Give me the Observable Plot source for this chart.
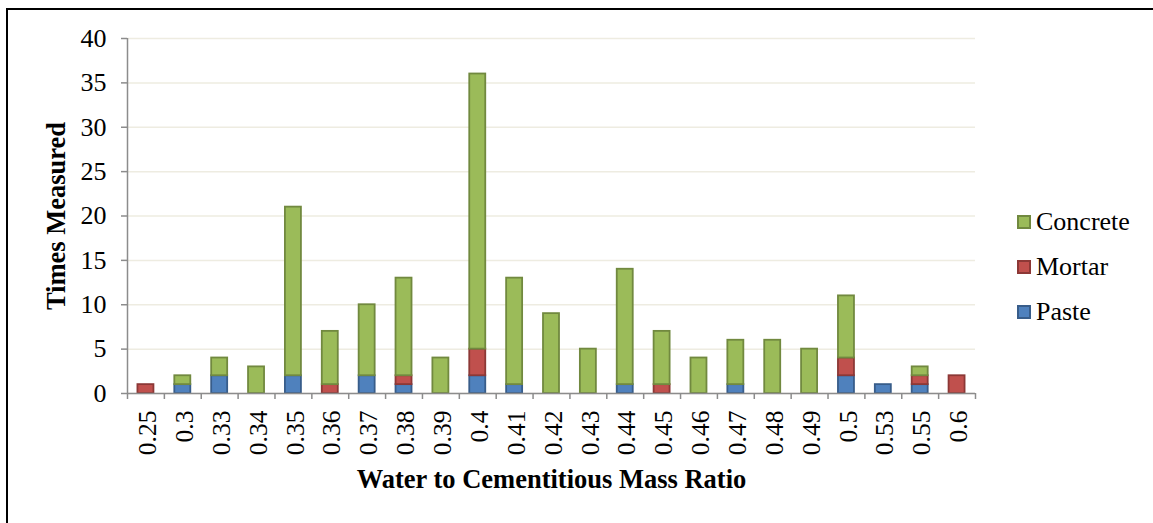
<!DOCTYPE html>
<html>
<head>
<meta charset="utf-8">
<script src="https://cdn.jsdelivr.net/npm/d3@7"></script>
<script src="https://cdn.jsdelivr.net/npm/@observablehq/plot@0.6"></script>
<style>
  html, body { margin: 0; padding: 0; background: #fff; overflow: hidden; width: 1153px; height: 523px; }
  #wrap { position: relative; width: 1153px; height: 523px; }
  #frame { position: absolute; left: 6px; top: 8px; width: 2000px; height: 2000px; border-left: 2px solid #000; border-top: 2px solid #000; box-sizing: border-box; pointer-events: none; }
  #chart { position: absolute; left: 0; top: 0; }
  #legend { position: absolute; left: 1017px; top: 0; font-family: "Liberation Serif", "Times New Roman", serif; font-size: 26px; color: #000; }
  #legend .item { position: absolute; left: 0; display: flex; align-items: center; height: 30px; white-space: nowrap; }
  #legend .sw { width: 10px; height: 10px; border: 2px solid; margin-right: 5px; flex: none; }
</style>
</head>
<body>
<div id="wrap">
  <div id="chart"></div>
  <div id="legend"></div>
  <div id="frame"></div>
</div>
<script>
const categories = ["0.25","0.3","0.33","0.34","0.35","0.36","0.37","0.38","0.39","0.4","0.41","0.42","0.43","0.44","0.45","0.46","0.47","0.48","0.49","0.5","0.53","0.55","0.6"];
const paste    = [0,1,2,0,2,0,2,1,0,2,1,0,0,1,0,0,1,0,0,2,1,1,0];
const mortar   = [1,0,0,0,0,1,0,1,0,3,0,0,0,0,1,0,0,0,0,2,0,1,2];
const concrete = [0,1,2,3,19,6,8,11,4,31,12,9,5,13,6,4,5,6,5,7,0,1,0];
const seriesNames = ["Paste","Mortar","Concrete"];
const fills   = ["#4F81BD","#C0504D","#9BBB59"];
const strokes = ["#385D8A","#8C3836","#71893F"];
const yTicks = [0,5,10,15,20,25,30,35,40];

const seriesValues = [paste, mortar, concrete];
const rows = [];
categories.forEach((c, i) => {
  seriesNames.forEach((s, j) => rows.push({ratio: c, type: s, value: seriesValues[j][i]}));
});
const nonZero = rows.filter(d => d.value > 0);

const W = 1153, H = 523, ML = 127, MR = 178, MT = 38, MB = 130;
const step = (W - ML - MR) / categories.length;
const serif = "Liberation Serif, Times New Roman, serif";
const axisColor = "#8C8C8C";

const plot = Plot.plot({
  width: W, height: H,
  marginLeft: ML, marginRight: MR, marginTop: MT, marginBottom: MB,
  style: { fontFamily: serif, fontSize: "26px", color: "#000", background: "transparent" },
  x: { domain: categories, paddingInner: 0.566, paddingOuter: 0.283, round: false, label: null },
  y: { domain: [0, 40], label: null },
  color: { domain: seriesNames, range: fills },
  marks: [
    Plot.gridY(yTicks, { stroke: "#EEECE1", strokeOpacity: 1, strokeWidth: 1.5 }),
    Plot.barY(nonZero, Plot.stackY({
      x: "ratio", y: "value", fill: "type", order: seriesNames,
      stroke: d => strokes[seriesNames.indexOf(d.type)], strokeWidth: 1.8
    })),
    Plot.ruleY([0], { stroke: axisColor, strokeWidth: 1.5 }),
    Plot.ruleX([categories[0]], { x: d => d, dx: -step / 2, y1: 0, y2: 40, stroke: axisColor, strokeWidth: 1.5 }),
    Plot.ruleX(categories, { x: d => d, dx: -step / 2, y1: 0, y2: 0, insetBottom: -6, stroke: axisColor, strokeWidth: 1.5 }),
    Plot.ruleX([categories[categories.length - 1]], { x: d => d, dx: step / 2, y1: 0, y2: 0, insetBottom: -6, stroke: axisColor, strokeWidth: 1.5 }),
    Plot.axisY(yTicks, { tickSize: 6, tickPadding: 15, stroke: axisColor, strokeWidth: 1.5, fontSize: 26, fontFamily: serif }),
    Plot.axisX(categories, { tickSize: 0, tickPadding: 17, tickRotate: -90, fontSize: 25.5, fontFamily: serif, dx: 2 }),
    Plot.text(["Water to Cementitious Mass Ratio"], {
      frameAnchor: "bottom", dy: 94, fontWeight: "bold", fontSize: 26.5, fontFamily: serif, textAnchor: "middle"
    }),
    Plot.text(["Times Measured"], {
      frameAnchor: "left", dx: -71, rotate: -90, fontWeight: "bold", fontSize: 26.5, fontFamily: serif, textAnchor: "middle"
    })
  ]
});
document.getElementById("chart").appendChild(plot);

const legend = document.getElementById("legend");
const legendTops = [207, 252, 297];
[2, 1, 0].forEach((j, k) => {
  const item = document.createElement("div");
  item.className = "item";
  item.style.top = legendTops[k] + "px";
  const sw = document.createElement("span");
  sw.className = "sw";
  sw.style.background = fills[j];
  sw.style.borderColor = strokes[j];
  const label = document.createElement("span");
  label.textContent = seriesNames[j];
  item.appendChild(sw);
  item.appendChild(label);
  legend.appendChild(item);
});
</script>
</body>
</html>
